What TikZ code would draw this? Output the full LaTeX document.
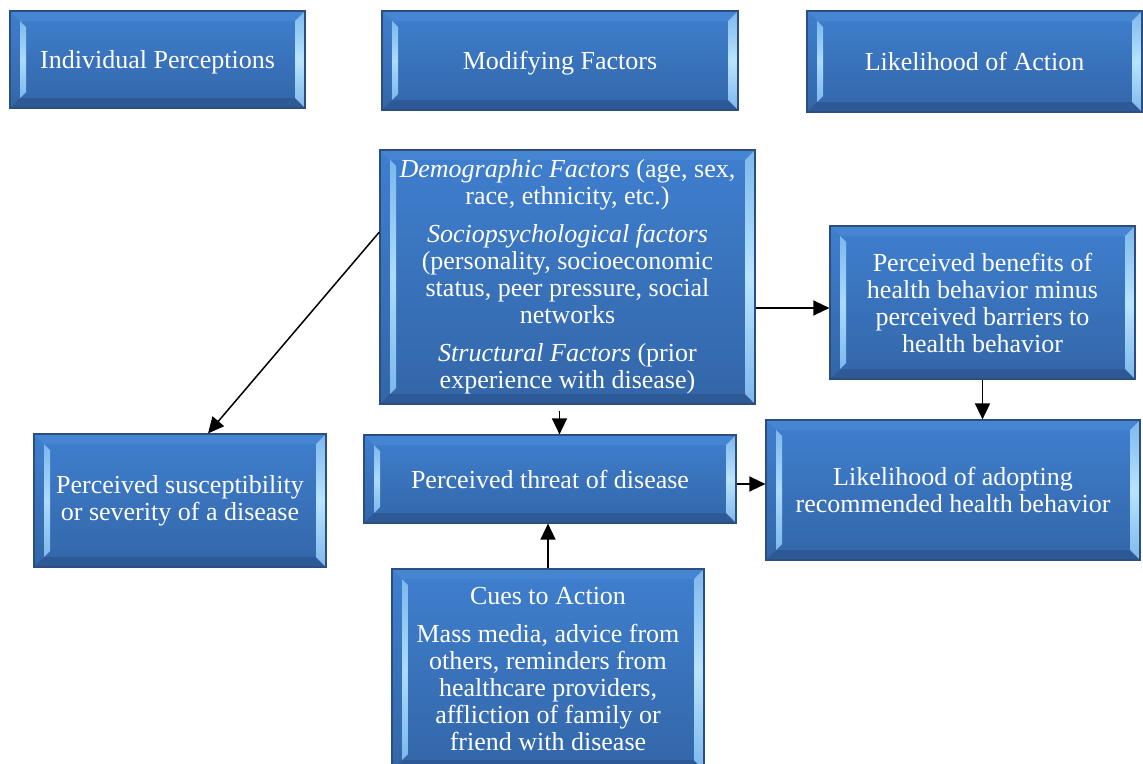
\documentclass[tikz,border=0pt]{standalone}
\usepackage{fontspec}
\setmainfont{Liberation Serif}
\usetikzlibrary{arrows.meta}

\definecolor{facetop}{HTML}{3F7FCF}
\definecolor{facebot}{HTML}{3366A8}
\definecolor{facehi}{HTML}{4585D2}
\definecolor{facelo}{HTML}{2D5A97}
\definecolor{boxline}{HTML}{2B4E7E}
\definecolor{bevhi}{HTML}{B8E4FF}
\definecolor{bevmid}{HTML}{7DB8EC}

\tikzset{
  bevelbox/.style={rectangle, draw=boxline, line width=1.2pt,
    top color=facetop, bottom color=facebot, text=white, align=center,
    inner sep=0pt, font=\fontsize{26}{27}\selectfont,
    path picture={
      \coordinate (ppsw) at (path picture bounding box.south west);
      \coordinate (ppse) at (path picture bounding box.south east);
      \coordinate (ppne) at (path picture bounding box.north east);
      \coordinate (ppnw) at (path picture bounding box.north west);
      % top and bottom bevel
      \fill[facehi] (ppnw) -- (ppne) -- ([shift={(-10pt,-10pt)}]ppne) -- ([shift={(10pt,-10pt)}]ppnw) -- cycle;
      \fill[facelo] (ppsw) -- (ppse) -- ([shift={(-10pt,10pt)}]ppse) -- ([shift={(10pt,10pt)}]ppsw) -- cycle;
      % light sides
      \shade[top color=bevmid, bottom color=bevmid, middle color=bevhi] (ppse) -- (ppne) -- ([shift={(-10pt,-10pt)}]ppne) -- ([shift={(-10pt,10pt)}]ppse) -- cycle;
      \shade[top color=bevmid, bottom color=bevmid, middle color=bevhi!80!bevmid] ([shift={(10pt,10pt)}]ppsw) -- ([shift={(10pt,-10pt)}]ppnw) -- ([shift={(16pt,-16pt)}]ppnw) -- ([shift={(16pt,16pt)}]ppsw) -- cycle;
    }},
  onebox/.style={bevelbox, execute at begin node={\rule[-7pt]{0pt}{32pt}}},
  conn/.style={-{Triangle[length=16pt,width=15pt]}, line width=1.5pt}
}

\begin{document}
\begin{tikzpicture}[x=1pt, y=-1pt]
        \clip (0, 0) rectangle (1143, 763);

        % headers
        \node[onebox, minimum width=295pt, minimum height=97pt] (ind) at (157.5, 59.5) {Individual Perceptions};
        \node[onebox, minimum width=356pt, minimum height=99pt] (mod) at (560, 60.5) {Modifying Factors};
        \node[onebox, minimum width=335pt, minimum height=101pt] (act) at (974.5, 61.5) {Likelihood of Action};

        % boxes
        \node[bevelbox, minimum width=375pt, minimum height=254pt] (demo) at (567.5, 277) {\itshape Demographic Factors\upshape{} (age, sex,\\ race, ethnicity, etc.)\\[11pt] \itshape Sociopsychological factors\\ (personality, socioeconomic\\ status, peer pressure, social\\ networks\\[11pt] \itshape Structural Factors\upshape{} (prior\\ experience with disease)};
        \node[bevelbox, minimum width=305pt, minimum height=153pt] (ben) at (982.5, 302.5) {Perceived benefits of\\ health behavior minus\\ perceived barriers to\\ health behavior};
        \node[bevelbox, minimum width=292pt, minimum height=133pt] (susc) at (180, 500.5) {Perceived susceptibility\\ or severity of a disease};
        \node[onebox, minimum width=372pt, minimum height=88pt] (thr) at (550, 479) {Perceived threat of disease};
        \node[bevelbox, minimum width=374pt, minimum height=140pt] (adopt) at (953, 490) {Likelihood of adopting\\ recommended health behavior};
        \node[bevelbox, minimum width=312pt, minimum height=201pt] (cues) at (548, 669.5) {Cues to Action\\[11pt] Mass media, advice from\\ others, reminders from\\ healthcare providers,\\ affliction of family or\\ friend with disease};

        % arrows
        \draw[conn] ([yshift=45pt]demo.west) -- ([xshift=28pt]susc.north);
        \draw[conn] ([yshift=-31pt]demo.east) -- ([yshift=-31pt]demo.east -| ben.west);
        \draw[conn] ([xshift=-8pt, yshift=-6pt]demo.south) -- ([xshift=-8pt]demo.south |- thr.north);
        \draw[conn] (ben.south) -- (ben.south |- adopt.north);
        \draw[conn] ([yshift=-5pt]thr.east) -- ([yshift=-5pt]thr.east -| adopt.west);
        \draw[conn] (cues.north) -- (cues.north |- thr.south);
    \end{tikzpicture}
\end{document}
